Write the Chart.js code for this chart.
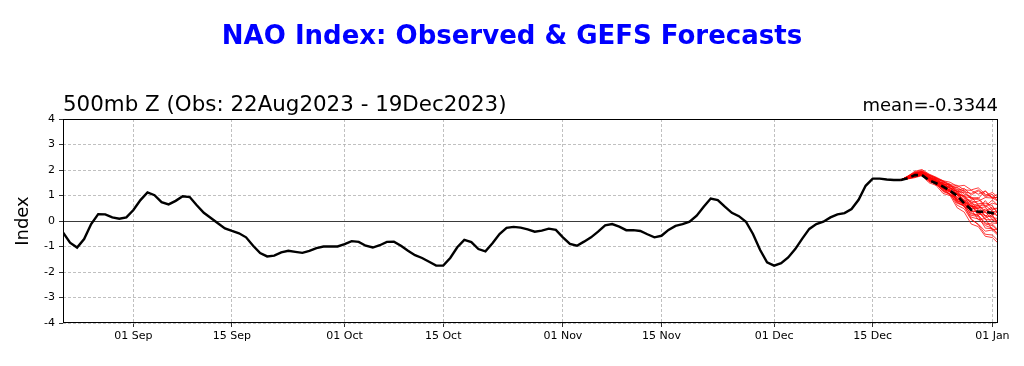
<!DOCTYPE html>
<html>
<head>
<meta charset="utf-8">
<script src="https://cdn.jsdelivr.net/npm/chart.js@4.4.0/dist/chart.umd.min.js"></script>
<style>
  body { margin: 0; background: #fff; }
  canvas { display: block; }
</style>
</head>
<body>
<canvas id="nao-chart" width="1024" height="366"></canvas>
<script>
// days counted from 22 Aug 2023 (day 0)
const tickDays = [10, 24, 40, 54, 71, 85, 101, 115, 132];
const tickLabels = ["01 Sep", "15 Sep", "01 Oct", "15 Oct", "01 Nov", "15 Nov", "01 Dec", "15 Dec", "01 Jan"];
const yTicks = [-4, -3, -2, -1, 0, 1, 2, 3, 4];

// observed NAO, 22 Aug - 19 Dec 2023
const observed = [
  -0.45, -0.85, -1.04, -0.71, -0.12, 0.27, 0.26, 0.14, 0.09, 0.14,
  0.43, 0.82, 1.12, 1.01, 0.74, 0.65, 0.79, 0.97, 0.94, 0.62,
  0.32, 0.12, -0.09, -0.29, -0.39, -0.48, -0.64, -0.97, -1.26, -1.39,
  -1.36, -1.23, -1.17, -1.21, -1.25, -1.17, -1.06, -1.00, -1.00, -1.00,
  -0.91, -0.79, -0.82, -0.97, -1.04, -0.95, -0.82, -0.81, -0.97, -1.17,
  -1.34, -1.45, -1.60, -1.75, -1.75, -1.45, -1.03, -0.74, -0.83, -1.10,
  -1.19, -0.87, -0.51, -0.27, -0.23, -0.26, -0.33, -0.42, -0.38, -0.30,
  -0.35, -0.64, -0.90, -0.97, -0.81, -0.64, -0.42, -0.17, -0.12, -0.22,
  -0.36, -0.36, -0.39, -0.52, -0.64, -0.58, -0.35, -0.19, -0.12, -0.03,
  0.21, 0.56, 0.88, 0.82, 0.56, 0.32, 0.19, -0.03, -0.51, -1.13,
  -1.62, -1.75, -1.65, -1.43, -1.10, -0.69, -0.31, -0.12, -0.03, 0.14,
  0.26, 0.31, 0.47, 0.83, 1.38, 1.66, 1.66, 1.63, 1.61, 1.61
];

// GEFS forecasts start on 19 Dec (day 119)
const forecastStart = 119;
const ensembleMean = [1.61, 1.68, 1.80, 1.80, 1.60, 1.48, 1.35, 1.19, 0.99, 0.70, 0.44, 0.36, 0.36, 0.31, 0.18];
const ensembleMembers = [
  [1.61, 1.70, 1.80, 1.92, 1.72, 1.55, 1.42, 1.18, 1.05, 0.72, 0.60, 0.28, 0.35, 0.05, -0.15],
  [1.61, 1.74, 1.88, 1.95, 1.80, 1.70, 1.52, 1.45, 1.20, 1.28, 1.02, 1.18, 0.95, 1.05, 0.70],
  [1.61, 1.66, 1.72, 1.82, 1.55, 1.45, 1.18, 1.05, 0.62, 0.48, 0.05, -0.12, -0.40, -0.35, -0.62],
  [1.61, 1.72, 1.85, 1.88, 1.66, 1.62, 1.38, 1.35, 1.08, 0.95, 0.55, 0.62, 0.40, 0.55, 0.28],
  [1.61, 1.76, 1.95, 2.02, 1.84, 1.72, 1.58, 1.52, 1.36, 1.40, 1.22, 1.30, 1.05, 0.92, 1.10],
  [1.61, 1.68, 1.75, 1.85, 1.60, 1.52, 1.22, 1.15, 0.80, 0.68, 0.22, 0.18, -0.28, -0.30, -0.58],
  [1.61, 1.70, 1.82, 1.80, 1.70, 1.48, 1.45, 1.20, 1.02, 0.62, 0.58, 0.48, 0.80, 0.45, 0.50],
  [1.61, 1.73, 1.86, 1.91, 1.70, 1.66, 1.44, 1.40, 1.15, 1.20, 0.88, 0.92, 0.58, 0.82, 0.55],
  [1.61, 1.65, 1.70, 1.78, 1.50, 1.40, 1.08, 1.00, 0.52, 0.35, -0.12, -0.22, -0.60, -0.65, -0.92],
  [1.61, 1.75, 1.90, 1.94, 1.80, 1.68, 1.58, 1.42, 1.40, 1.22, 1.20, 1.05, 1.18, 0.88, 0.95],
  [1.61, 1.69, 1.78, 1.86, 1.62, 1.55, 1.28, 1.22, 0.85, 0.80, 0.50, 0.48, 0.18, 0.40, 0.12],
  [1.61, 1.71, 1.82, 1.84, 1.68, 1.50, 1.42, 1.12, 1.08, 0.78, 0.68, 0.28, 0.22, -0.08, -0.10],
  [1.61, 1.73, 1.87, 1.93, 1.72, 1.62, 1.38, 1.32, 1.02, 0.98, 0.72, 0.78, 0.92, 0.90, 0.75],
  [1.61, 1.67, 1.74, 1.83, 1.55, 1.48, 1.15, 1.05, 0.70, 0.58, 0.15, 0.08, -0.18, -0.28, -0.55],
  [1.61, 1.70, 1.79, 1.85, 1.70, 1.52, 1.48, 1.28, 1.15, 0.75, 0.62, 0.22, 0.48, 0.12, 0.10],
  [1.61, 1.72, 1.84, 1.89, 1.68, 1.58, 1.32, 1.18, 0.80, 0.70, 0.38, 0.38, 0.05, 0.05, 0.02],
  [1.61, 1.68, 1.76, 1.84, 1.58, 1.50, 1.25, 1.14, 0.75, 0.58, 0.08, -0.15, -0.52, -0.55, -0.82],
  [1.61, 1.76, 1.92, 1.98, 1.82, 1.68, 1.55, 1.35, 1.30, 1.05, 0.95, 0.62, 0.62, 0.38, 0.35],
  [1.61, 1.66, 1.73, 1.80, 1.62, 1.42, 1.38, 1.15, 1.05, 0.70, 0.58, 0.52, 0.55, 0.22, 0.42],
  [1.61, 1.71, 1.80, 1.88, 1.66, 1.56, 1.28, 1.22, 0.90, 0.82, 0.58, 0.58, 0.20, 0.18, -0.12],
  [1.61, 1.73, 1.86, 1.90, 1.76, 1.55, 1.50, 1.28, 1.25, 0.95, 0.92, 0.88, 1.18, 0.92, 0.92],
  [1.61, 1.68, 1.76, 1.84, 1.60, 1.48, 1.20, 1.08, 0.72, 0.60, 0.28, 0.22, -0.12, -0.18, -0.45],
  [1.61, 1.70, 1.81, 1.82, 1.70, 1.48, 1.44, 1.18, 1.10, 0.82, 0.76, 0.40, 0.38, 0.48, 0.52],
  [1.61, 1.72, 1.85, 1.90, 1.68, 1.60, 1.36, 1.30, 1.06, 1.00, 0.68, 0.62, 0.32, 0.32, 0.15],
  [1.61, 1.69, 1.78, 1.87, 1.62, 1.54, 1.30, 1.20, 0.85, 0.75, 0.32, 0.22, -0.08, -0.12, -0.40],
  [1.61, 1.74, 1.87, 1.93, 1.78, 1.65, 1.45, 1.42, 1.14, 1.12, 0.85, 0.85, 0.55, 0.70, 0.62],
  [1.61, 1.67, 1.74, 1.79, 1.64, 1.40, 1.32, 1.00, 0.95, 0.55, 0.45, 0.05, 0.10, -0.35, -0.30],
  [1.61, 1.71, 1.83, 1.86, 1.74, 1.57, 1.50, 1.24, 1.18, 0.88, 0.80, 0.68, 0.70, 0.60, 0.20],
  [1.61, 1.69, 1.78, 1.88, 1.64, 1.52, 1.26, 1.16, 0.78, 0.65, 0.40, 0.35, 0.12, 0.25, -0.20],
  [1.61, 1.75, 1.89, 1.92, 1.79, 1.62, 1.56, 1.38, 1.32, 1.15, 1.08, 1.22, 1.00, 1.12, 0.88]
];

const titleText = "NAO Index: Observed & GEFS Forecasts";
const subtitleText = "500mb Z (Obs: 22Aug2023 - 19Dec2023)";
const meanText = "mean=-0.3344";

const FONT = "'DejaVu Sans', sans-serif";

const toPoints = (vals, start) => vals.map((v, i) => ({ x: start + i, y: v }));

const datasets = [
  {
    data: toPoints(ensembleMean, forecastStart),
    borderColor: "#000",
    borderWidth: 2.6,
    borderDash: [7, 4],
    clip: 0
  },
  {
    data: toPoints(observed, 0),
    borderColor: "#000",
    borderWidth: 2.4,
    clip: 0
  }
].concat(ensembleMembers.map((m) => ({
  data: toPoints(m, forecastStart),
  borderColor: "rgba(255,0,0,0.85)",
  borderWidth: 0.9,
  clip: 0
})));

const decorations = {
  id: "decorations",
  beforeDatasetsDraw(chart) {
    const { ctx, chartArea, scales } = chart;
    const y0 = Math.round(scales.y.getPixelForValue(0)) + 0.5;
    ctx.save();
    ctx.strokeStyle = "#3a3a3a";
    ctx.lineWidth = 1;
    ctx.beginPath();
    ctx.moveTo(chartArea.left, y0);
    ctx.lineTo(chartArea.right, y0);
    ctx.stroke();
    ctx.restore();
  },
  afterDraw(chart) {
    const { ctx, chartArea } = chart;
    ctx.save();
    ctx.strokeStyle = "#000";
    ctx.lineWidth = 1;
    ctx.strokeRect(chartArea.left + 0.5, chartArea.top + 0.5,
      chartArea.right - chartArea.left - 1, chartArea.bottom - chartArea.top - 1);

    ctx.fillStyle = "#0000ff";
    ctx.font = "bold 26px " + FONT;
    ctx.textAlign = "center";
    ctx.textBaseline = "alphabetic";
    ctx.fillText(titleText, 512, 44);

    ctx.fillStyle = "#000";
    ctx.font = "21.4px " + FONT;
    ctx.textAlign = "left";
    ctx.fillText(subtitleText, chartArea.left, 111);

    ctx.font = "18px " + FONT;
    ctx.textAlign = "right";
    ctx.fillText(meanText, chartArea.right, 111);

    ctx.translate(28, (chartArea.top + chartArea.bottom) / 2);
    ctx.rotate(-Math.PI / 2);
    ctx.textAlign = "center";
    ctx.font = "18px " + FONT;
    ctx.fillText("Index", 0, 0);
    ctx.restore();
  }
};

new Chart(document.getElementById("nao-chart").getContext("2d"), {
  type: "line",
  data: { datasets },
  options: {
    responsive: false,
    animation: false,
    layout: { padding: { left: 0, right: 26, top: 119, bottom: 0 } },
    elements: { point: { radius: 0 }, line: { tension: 0 } },
    plugins: { legend: { display: false }, tooltip: { enabled: false } },
    scales: {
      x: {
        type: "linear",
        min: 0,
        max: 132.8,
        afterBuildTicks: (s) => { s.ticks = tickDays.map((v) => ({ value: v })); },
        afterFit: (s) => { s.height = 43; },
        ticks: {
          autoSkip: false,
          maxRotation: 0,
          padding: 3,
          color: "#000",
          font: { family: FONT, size: 11 },
          callback: (v) => tickLabels[tickDays.indexOf(v)]
        },
        grid: { color: "#b0b0b0", lineWidth: 0.8, tickColor: "#000", tickLength: 4 },
        border: { display: false, dash: [3, 2] }
      },
      y: {
        min: -4,
        max: 4,
        afterBuildTicks: (s) => { s.ticks = yTicks.map((v) => ({ value: v })); },
        afterFit: (s) => { s.width = 63; },
        ticks: {
          padding: 4,
          color: "#000",
          font: { family: FONT, size: 11 }
        },
        grid: { color: "#b0b0b0", lineWidth: 0.8, tickColor: "#000", tickLength: 4 },
        border: { display: false, dash: [3, 2] }
      }
    }
  },
  plugins: [decorations]
});
</script>
</body>
</html>
